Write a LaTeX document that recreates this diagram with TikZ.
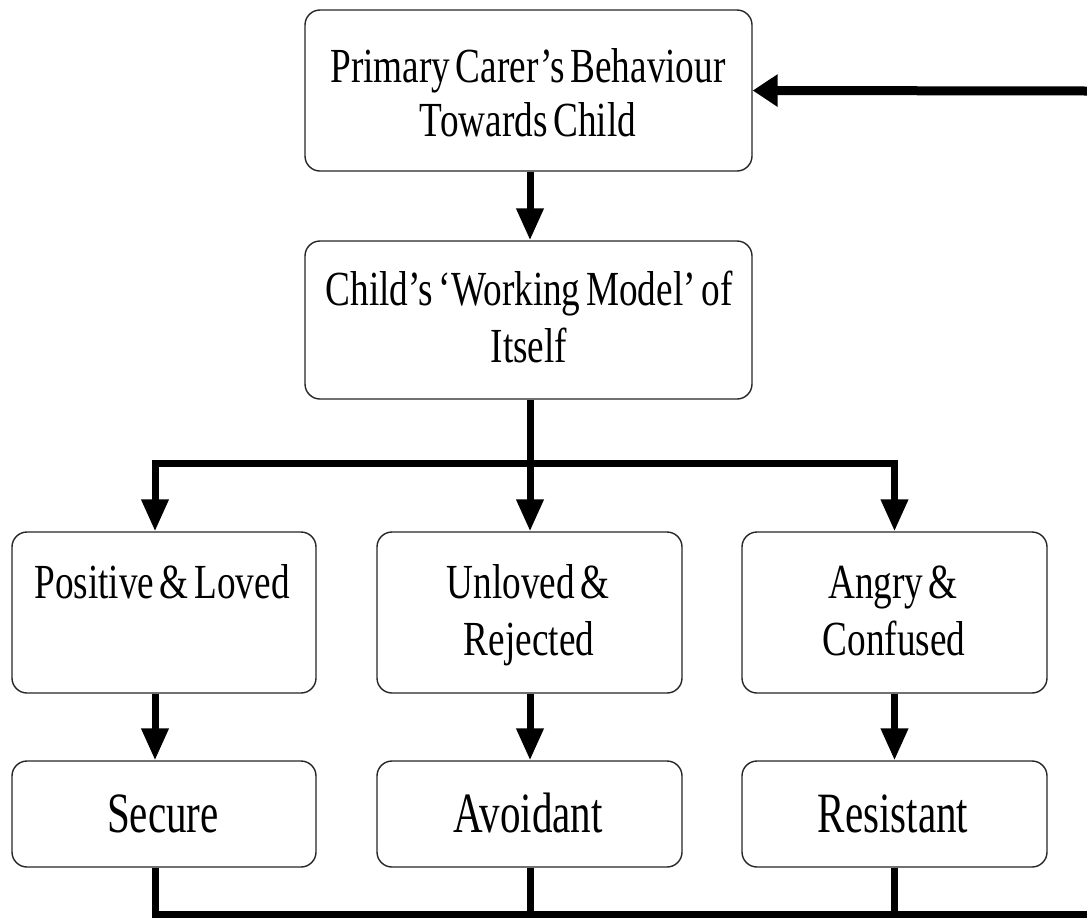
\documentclass[tikz,border=0pt]{standalone}
\usepackage{fontspec}
\usetikzlibrary{arrows.meta}
% condensed Times-like face used in every box
\newfontfamily\boxfont[FakeStretch=0.76,WordSpace=0.6]{Liberation Serif}
\newfontfamily\bigboxfont[FakeStretch=0.72,WordSpace=0.6]{Liberation Serif}
\begin{document}
\begin{tikzpicture}[x=1pt,y=-1pt,
  box/.style={draw=black!85, line width=1.4pt, rounded corners=15pt, fill=white,
    inner sep=0pt, minimum height=161pt},
  smallbox/.style={box, minimum height=106pt},
  txt/.style={anchor=base, inner sep=0pt, font=\boxfont\fontsize{49}{57}\selectfont},
  bigtxt/.style={anchor=base, inner sep=0pt, font=\bigboxfont\fontsize{57}{66}\selectfont},
  link/.style={line width=7pt, line join=miter},
  arrowlink/.style={link, -{Triangle[length=32pt,width=26pt]}},
  feedback/.style={line width=9pt, -{Triangle[length=25pt,width=31pt]}}
]
\useasboundingbox (0,0) rectangle (1087,919);

% boxes
\node[box, minimum width=447pt] (carer) at (528.5,90.5) {};
\node[box, minimum width=447pt, minimum height=158pt] (model) at (528.5,320) {};
\node[box, minimum width=304pt] (loved) at (164,612.5) {};
\node[box, minimum width=305pt] (rejected) at (529.5,612.5) {};
\node[box, minimum width=305pt] (confused) at (894.5,612.5) {};
\node[smallbox, minimum width=304pt] (secure) at (164,814) {};
\node[smallbox, minimum width=305pt] (avoidant) at (529.5,814) {};
\node[smallbox, minimum width=305pt] (resistant) at (894.5,814) {};

% box texts, one node per line
\node[txt] (carerA) at (528,82) {Primary Carer’s Behaviour};
\node[txt] (carerB) at (528,136) {Towards Child};
\node[txt] (modelA) at (529,305) {Child’s ‘Working Model’ of};
\node[txt] (modelB) at (529,362) {Itself};
\node[txt] (lovedA) at (162,598) {Positive \& Loved};
\node[txt] (rejectedA) at (528,598) {Unloved \&};
\node[txt] (rejectedB) at (529,655) {Rejected};
\node[txt] (confusedA) at (893,598) {Angry \&};
\node[txt] (confusedB) at (894,655) {Confused};
\node[bigtxt] (secureT) at (163,832) {Secure};
\node[bigtxt] (avoidantT) at (528,832) {Avoidant};
\node[bigtxt] (resistantT) at (893,832) {Resistant};

% junctions and free ends
\coordinate (split) at (530,463);
\coordinate (feedin) at (1087,91);
\coordinate (bottomright) at (1087,914);

% carer -> model -> three outcomes
\draw[arrowlink] ([xshift=1.5pt]carer.south) -- ([xshift=1.5pt]model.south |- model.north);
\draw[link] ([xshift=1.5pt]model.south) -- (split);
\draw[arrowlink] (split) -| ([xshift=-9pt]loved.north);
\draw[arrowlink] (split) -- (split |- rejected.north);
\draw[arrowlink] (split) -| (confused.north);

% working model -> attachment type
\draw[arrowlink] ([xshift=-9pt]loved.south) -- ([xshift=-9pt]secure.north);
\draw[arrowlink] (split |- rejected.south) -- (split |- avoidant.north);
\draw[arrowlink] (confused.south) -- (resistant.north);

% loop back along the bottom
\draw[link] ([xshift=-9pt]secure.south) |- (bottomright);
\draw[link] (split |- avoidant.south) -- (split |- bottomright);
\draw[link] (confused.south |- resistant.south) -- (confused.south |- bottomright);

% return into the carer box
\draw[feedback] (feedin) -- (carer.east);
\end{tikzpicture}
\end{document}
